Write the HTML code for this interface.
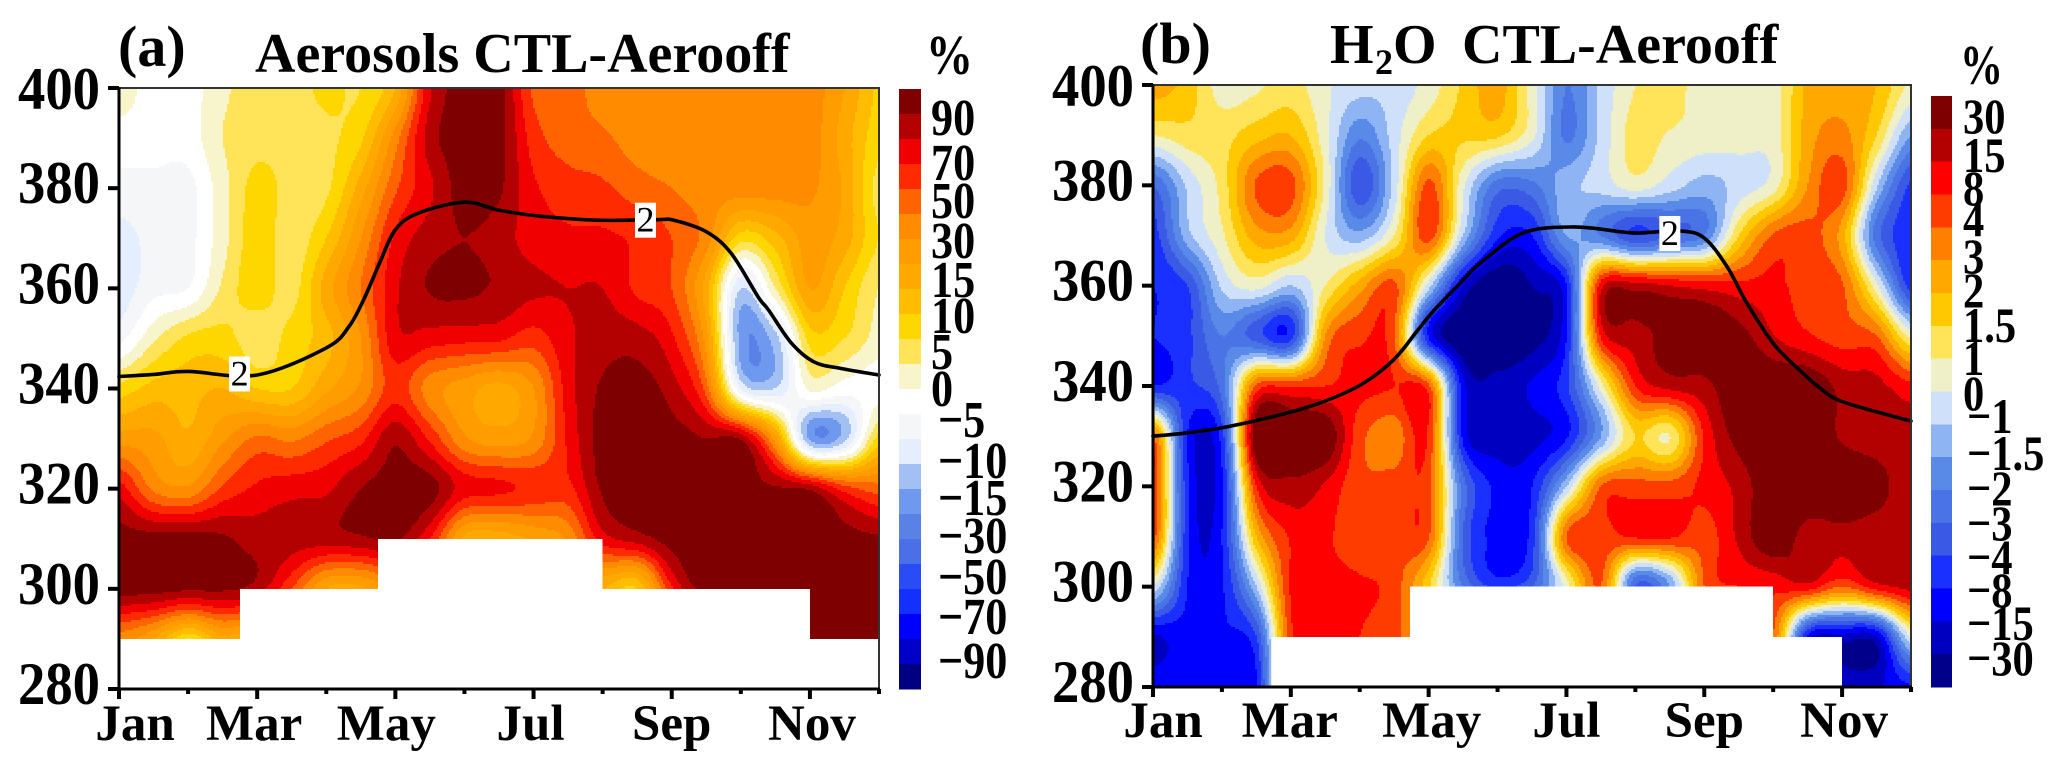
<!DOCTYPE html>
<html lang="en">
<head>
<meta charset="utf-8">
<title>Aerosols and H2O CTL-Aerooff</title>
<style>
html,body{margin:0;padding:0;background:#fff;}
body{width:2067px;height:774px;overflow:hidden;}
svg{display:block;}
text{font-family:"Liberation Serif",serif;font-weight:700;fill:#000;}
</style>
</head>
<body>
<svg id="figure" xmlns="http://www.w3.org/2000/svg" width="2067" height="774" viewBox="0 0 2067 774">
  <rect x="0" y="0" width="2067" height="774" fill="#fff"/>
  <g id="panelA"></g>
  <g id="panelB"></g>

  <text x="118" y="66" font-size="58">(a)</text>
  <text x="255" y="72" font-size="56">Aerosols CTL-Aerooff</text>
  <text x="926" y="74" font-size="56" textLength="47" lengthAdjust="spacingAndGlyphs">%</text>

  <text x="1140" y="63" font-size="58">(b)</text>
  <text y="63" font-size="56"><tspan x="1330">H</tspan><tspan x="1375" y="74" font-size="36">2</tspan><tspan x="1393" y="63">O</tspan></text>
  <text x="1462" y="63" font-size="56">CTL-Aerooff</text>
  <text x="1960" y="84" font-size="56" textLength="43" lengthAdjust="spacingAndGlyphs">%</text>

  <g font-size="52">
    <text class="tall" x="931" y="135">90</text>
    <text class="tall" x="931" y="180">70</text>
    <text class="tall" x="931" y="218">50</text>
    <text class="tall" x="931" y="258">30</text>
    <text class="tall" x="931" y="297">15</text>
    <text class="tall" x="931" y="333">10</text>
    <text class="tall" x="931" y="369">5</text>
    <text class="tall" x="931" y="406">0</text>
    <text class="tall" x="938" y="437">−5</text>
    <text class="tall" x="938" y="478">−10</text>
    <text class="tall" x="938" y="515">−15</text>
    <text class="tall" x="938" y="553">−30</text>
    <text class="tall" x="938" y="594">−50</text>
    <text class="tall" x="938" y="634">−70</text>
    <text class="tall" x="938" y="678">−90</text>
  </g>
  <g font-size="50">
    <text class="tall" x="1963" y="133">30</text>
    <text class="tall" x="1963" y="172">15</text>
    <text class="tall" x="1963" y="205">8</text>
    <text class="tall" x="1963" y="236">4</text>
    <text class="tall" x="1963" y="273">3</text>
    <text class="tall" x="1963" y="307">2</text>
    <text class="tall" x="1963" y="342">1.5</text>
    <text class="tall" x="1963" y="375">1</text>
    <text class="tall" x="1963" y="410">0</text>
    <text class="tall" x="1967" y="433">−1</text>
    <text class="tall" x="1967" y="470">−1.5</text>
    <text class="tall" x="1967" y="505">−2</text>
    <text class="tall" x="1967" y="540">−3</text>
    <text class="tall" x="1967" y="574">−4</text>
    <text class="tall" x="1967" y="607">−8</text>
    <text class="tall" x="1967" y="640">−15</text>
    <text class="tall" x="1967" y="675">−30</text>
  </g>
</svg>
<script>
// ---- shared axis data ----
const gridMonths = [0,0.5,1,1.5,2,2.5,3,3.5,4,4.5,5,5.5,6,6.5,7,7.5,8,8.5,9,9.5,10,10.5,11];
const gridHeights = [400,390,380,370,360,350,340,330,320,310,300,290,280];
const yTickValues = [400,380,360,340,320,300,280];
const xTickMonths = [0,2,4,6,8,10];
const xTickLabels = ['Jan','Mar','May','Jul','Sep','Nov'];
const xMinorTickMonths = [1,3,5,7,9,11];

// ---- panel (a) aerosols, percent ----
const aerosolLevels = [90,80,70,60,50,40,30,20,15,10,5,0,-2,-5,-10,-15,-20,-30,-40,-50,-60,-70,-90];
const aerosolColors = ['#7f0000','#b30000','#f00000','#ff2a00','#ff6400','#ff8c00','#ff9c00','#ffa800','#ffbc00','#ffd700','#ffe45a','#f8f5cc','#ffffff','#f5f6f7','#e4eeff','#a3c0f5','#6f99ee','#5a82e6','#4a6fe6','#2a4cf5','#1430ff','#0000ff','#0000c8','#000080'];
const aerosolValues = [
 [3,-1,-1,4,7,8,11,10,20,78,96,95,58,55,45,45,45,45,45,45,45,30,14],
 [-1,-1,-1,5,8,8,9,14,45,85,96,95,65,55,52,45,42,45,45,45,45,25,12],
 [-3,-3,-3,3,12,8,9,25,58,78,96,92,72,65,62,55,50,45,45,45,42,28,8],
 [-7,-4,-3,3,13,7,15,40,72,85,90,85,75,72,72,68,60,45,12,18,35,25,10],
 [-8,-3,-2,6,13,8,25,50,78,91,93,88,82,80,80,68,60,25,-10,5,30,15,5],
 [-3,4,11,12,7,12,18,40,77,75,73,72,65,78,85,85,72,35,-17,-12,12,10,3],
 [12,17,18,20,15,15,28,42,65,45,35,27,40,75,92,95,85,55,-5,-10,1,-1,-1],
 [35,33,22,38,52,48,58,67,88,68,42,35,42,72,95,95,95,90,88,35,-16,-12,12],
 [75,48,42,62,72,76,78,90,95,95,75,72,68,67,92,95,95,95,95,92,88,65,55],
 [95,95,95,92,85,85,85,88,92,70,28,25,32,42,75,85,95,95,95,95,95,95,92],
 [95,95,92,92,85,60,30,28,40,30,25,25,25,25,20,15,68,95,95,95,95,95,95],
 [45,30,10,25,20,20,20,20,20,20,20,20,20,20,20,20,20,20,20,95,95,95,95],
 [30,10,-30,0,20,20,20,20,20,20,20,20,20,20,20,20,20,20,20,95,95,95,95]
];
const aerosolMaskEdges = [0,1.75,3.75,7,10,11];
const aerosolMaskFloors = [290,300,310,300,290];
const aerosolLineMonths = [0,0.5,1,2,3,3.33,3.55,3.77,4,4.33,5,5.5,6.1,6.93,7.78,8.03,8.5,8.86,9.25,9.4,9.73,10.06,10.45,11];
const aerosolLineValues = [342.4,342.8,343.4,342.7,348.1,352.4,358,365,371.7,375,377.2,375.6,374.4,373.6,373.7,373.6,371.3,367,358.3,355.7,349.1,345.3,344,342.7];
const aerosolLabelMonths = [1.745,7.62];
const aerosolLabelValues = [343,373.7];

// ---- panel (b) water vapour, percent ----
const waterLevels = [30,15,8,4,3,2,1.5,1,0,-1,-1.5,-2,-3,-4,-8,-15,-30];
const waterColors = ['#7f0000','#b30000','#ff0000','#ff3c00','#ff8000','#ffa800','#ffc800','#ffe45a','#f0f0c8','#cfe0fa','#8fb4f4','#5a8ae8','#4a74e6','#3a5ae6','#1a30ff','#0000ff','#0000c0','#00008a'];
const waterValues = [
 [2.5,1.8,0.5,0.8,1.2,0.2,-0.6,-0.6,0.4,1.6,2.5,0.5,-2,-0.8,1.0,1.2,0.5,0.5,0.5,2.2,2.5,2.0,0.8],
 [1.0,1.3,1.3,1.8,2.0,0.4,-1.9,-0.5,1.5,1.6,1.6,0.3,-2.2,-0.7,1.2,0.9,0.6,0.5,0.5,2.5,3.3,1.5,-1.5],
 [-3,-0.8,1.2,4.5,5.5,0.8,-3.8,-0.6,5,0.2,-2.5,-2.3,-1.2,-0.6,0.5,-0.5,-1.2,-0.6,0.5,3,6,-0.8,-5],
 [-6,-1.2,0.8,2.5,2.5,0,-1.3,1,6,-1,-7,-8,-1.5,-2,-4,-3,-2,1.5,4.5,5.5,2.5,-2.5,-7],
 [-8,-4,-0.8,0.4,-1,1,2.5,5,-0.5,-15,-35,-30,-8,12,22,15,12,10,10,6,4.5,0.3,-6],
 [-8,-5,-2,-3.5,-6,3,7,4,-9,-35,-40,-32,-8,9,22,32,35,32,16,9,6,4,0.7],
 [-8,-5,-2.5,5,7,8,10,8,5,-12,-25,-14,-5,0.5,8,20,25,35,40,40,25,20,10],
 [4,-8,-6,35,40,35,5.5,3.4,7,-10,-24,-20,-9,-1.5,1.5,1,9,32,40,40,28,22,20],
 [8,-7,-9,8,25,14,5,5.5,5,-2.5,-10,-8,-1,4,5.5,5.5,10,20,40,40,40,32,20],
 [6,-7,-8,2,9,9,5.5,5,4.5,-3,-10,-6,4,6,9,9,6,18,38,22,22,20,20],
 [0,-8,-9,-1,9,9.5,9,6,1.6,-2,-5,-3,0.5,4,-3,-1.5,4,8,10,12,4,12,20],
 [-18,-10,-9,-4,7,8,8,5,3,3,3,3,3,3,3,3,3,3,4,-10,-20,-18,0],
 [-10,-9,-9,-9,7,8,8,5,3,3,3,3,3,3,3,3,3,3,4,-10,-20,-18,-9]
];
const waterMaskEdges = [0,1.72,3.73,9,10,11];
const waterMaskFloors = [280,290,300,290,280];
const waterLineMonths = [0,0.52,1.09,1.83,2.42,3.01,3.49,3.84,4.08,4.5,4.75,5.37,6.1,6.82,7.07,7.65,8,8.33,8.62,9,9.35,9.68,10.02,11];
const waterLineValues = [330,330.7,331.9,334.2,336.6,340.2,345.2,351.1,355.1,361.1,364.5,370.5,371.7,370.7,370.5,370.9,369.5,363.8,356.5,348.5,343.6,339.6,336.8,333];
const waterLabelMonths = [7.5];
const waterLabelValues = [370.5];

const SVGNS = 'http://www.w3.org/2000/svg';

function make(parent, tag, attrs) {
  const el = document.createElementNS(SVGNS, tag);
  for (const k in attrs) el.setAttribute(k, attrs[k]);
  parent.appendChild(el);
  return el;
}

// Horizontally squeeze a text element while keeping its height (the reference glyphs are tall and narrow).
function squeeze(el, factor) {
  el.setAttribute('textLength', el.getComputedTextLength() * factor);
  el.setAttribute('lengthAdjust', 'spacingAndGlyphs');
}

// Continuous colour-band position of a value: band i spans [i, i+1).
function bandPosition(v, levels) {
  const n = levels.length;
  if (v >= levels[0]) return Math.max(0, 1 - (v - levels[0]) / (levels[0] * 0.12 + 1));
  if (v <= levels[n - 1]) return Math.min(n + 0.99, n + (levels[n - 1] - v) / (Math.abs(levels[n - 1]) * 0.12 + 1));
  for (let k = 0; k < n - 1; k++) {
    if (v <= levels[k] && v >= levels[k + 1]) {
      return k + 1 + (levels[k] - v) / (levels[k] - levels[k + 1]);
    }
  }
  return 0;
}

function catmull(p0, p1, p2, p3, t) {
  return 0.5 * (2 * p1 + (p2 - p0) * t + (2 * p0 - 5 * p1 + 4 * p2 - p3) * t * t + (3 * p1 - p0 - 3 * p2 + p3) * t * t * t);
}

function fractionalIndex(axis, value) {
  const last = axis.length - 2;
  for (let i = 0; i <= last; i++) {
    const a = axis[i], b = axis[i + 1];
    if ((value >= a && value <= b) || (value <= a && value >= b)) return i + (value - a) / (b - a);
  }
  return value < axis[0] === axis[0] < axis[1] ? 0 : last + 1;
}

function samplePosition(grid, month, height) {
  const fx = fractionalIndex(gridMonths, month);
  const fy = fractionalIndex(gridHeights, height);
  const nx = gridMonths.length, ny = gridHeights.length;
  const ix = Math.min(nx - 2, Math.floor(fx)), iy = Math.min(ny - 2, Math.floor(fy));
  const tx = fx - ix, ty = fy - iy;
  const rows = [];
  for (let j = -1; j <= 2; j++) {
    const r = grid[Math.max(0, Math.min(ny - 1, iy + j))];
    rows.push(catmull(r[Math.max(0, ix - 1)], r[ix], r[ix + 1], r[Math.min(nx - 1, ix + 2)], tx));
  }
  return catmull(rows[0], rows[1], rows[2], rows[3], ty);
}

function drawPanel(cfg) {
  const g = document.getElementById(cfg.id);
  const xScale = m => cfg.left + (m - 0) / 11 * (cfg.right - cfg.left);
  const yScale = h => cfg.top + (400 - h) / 120 * (cfg.bottom - cfg.top);
  const monthAt = px => (px - cfg.left) / (cfg.right - cfg.left) * 11;
  const heightAt = py => 400 - (py - cfg.top) / (cfg.bottom - cfg.top) * 120;

  // filled contour bands
  const positions = cfg.values.map(row => row.map(v => bandPosition(v, cfg.levels)));
  const paths = cfg.colors.map(() => []);
  const step = 2;
  const maxBand = cfg.colors.length - 1;
  for (let py = cfg.top; py < cfg.bottom; py += step) {
    let runStart = cfg.left, runBand = -1;
    for (let px = cfg.left; px <= cfg.right; px += step) {
      let band = -2;
      if (px < cfg.right) {
        const t = samplePosition(positions, monthAt(px + 1), heightAt(py + 1));
        band = Math.max(0, Math.min(maxBand, Math.floor(t)));
      }
      if (band !== runBand) {
        if (runBand >= 0) paths[runBand].push('M' + runStart + ' ' + py + 'h' + (px - runStart) + 'v' + step + 'h' + (runStart - px) + 'z');
        runStart = px;
        runBand = band;
      }
    }
  }
  const bandGroup = make(g, 'g', { 'shape-rendering': 'crispEdges' });
  
  
  paths.forEach((segs, i) => {
    const p = make(bandGroup, 'path', { d: segs.join(''), fill: cfg.colors[i] });
    
    
  });

  // terrain / missing-data mask
  cfg.maskFloors.forEach((floor, i) => {
    const x0 = xScale(cfg.maskEdges[i]), x1 = xScale(cfg.maskEdges[i + 1]);
    const y0 = yScale(floor);
    const r = make(g, 'rect', { x: x0, y: y0, width: Math.max(0, x1 - x0), height: Math.max(0, cfg.bottom - y0), fill: '#fff', 'shape-rendering': 'crispEdges' });
    
    
  });

  // contour line of value 2
  const pts = cfg.lineMonths.map((m, i) => [xScale(m), yScale(cfg.lineValues[i])]);
  let d = 'M' + pts[0][0] + ' ' + pts[0][1];
  for (let i = 0; i < pts.length - 1; i++) {
    const p0 = pts[Math.max(0, i - 1)], p1 = pts[i], p2 = pts[i + 1], p3 = pts[Math.min(pts.length - 1, i + 2)];
    d += 'C' + (p1[0] + (p2[0] - p0[0]) / 6) + ' ' + (p1[1] + (p2[1] - p0[1]) / 6) + ' ' + (p2[0] - (p3[0] - p1[0]) / 6) + ' ' + (p2[1] - (p3[1] - p1[1]) / 6) + ' ' + p2[0] + ' ' + p2[1];
  }
  const line = make(g, 'path', { d: d, fill: 'none', stroke: '#000', 'stroke-width': 3.6, 'stroke-linecap': 'round' });
  
  

  cfg.labelMonths.forEach((m, i) => {
    const cx = xScale(m), cy = yScale(cfg.labelValues[i]);
    const box = make(g, 'rect', { x: cx - 10.5, y: cy - 17, width: 21, height: 35, fill: '#fff' });
    
    
    const t = make(g, 'text', { x: cx, y: cy + 12, 'font-size': 36, 'text-anchor': 'middle', style: 'font-weight:400' });
    t.textContent = '2';
    
    
  });

  // frame
  const frame = make(g, 'rect', { x: cfg.left, y: cfg.top, width: cfg.right - cfg.left, height: cfg.bottom - cfg.top, fill: 'none', stroke: '#333', 'stroke-width': 2 });
  
  
  const yAxis = make(g, 'line', { x1: cfg.left, x2: cfg.left, y1: cfg.top - 1, y2: cfg.bottom + 1, stroke: '#000', 'stroke-width': 3 });
  
  
  const xAxis = make(g, 'line', { x1: cfg.left, x2: cfg.right + 1, y1: cfg.bottom, y2: cfg.bottom, stroke: '#000', 'stroke-width': 3 });
  
  

  // y ticks
  yTickValues.forEach(v => {
    const y = yScale(v);
    const tick = make(g, 'line', { x1: cfg.left - 11, x2: cfg.left, y1: y, y2: y, stroke: '#000', 'stroke-width': 4 });
    
    
    const t = make(g, 'text', { x: cfg.yLabelX, y: y + (v === 400 ? 21 : 15), 'font-size': 60, 'text-anchor': 'end', textLength: 82, lengthAdjust: 'spacingAndGlyphs' });
    t.textContent = String(v);
    
    
  });

  // x ticks
  xTickMonths.forEach((m, i) => {
    const x = xScale(m);
    const tick = make(g, 'line', { x1: x, x2: x, y1: cfg.bottom, y2: cfg.bottom + 10, stroke: '#000', 'stroke-width': 4 });
    
    
    const t = make(g, 'text', { x: x + cfg.labelNudge[i], y: cfg.xLabelY, 'font-size': 51, 'text-anchor': 'middle' });
    t.textContent = xTickLabels[i];
    
    
  });
  xMinorTickMonths.forEach(m => {
    const x = xScale(m);
    const tick = make(g, 'line', { x1: x, x2: x, y1: cfg.bottom, y2: cfg.bottom + 5, stroke: '#000', 'stroke-width': 4 });
    
    
  });

  // colour bar
  const barH = (cfg.barBottom - cfg.barTop) / cfg.colors.length;
  const barGroup = make(g, 'g', { 'shape-rendering': 'crispEdges' });
  
  
  cfg.colors.forEach((c, i) => {
    const r = make(barGroup, 'rect', { x: cfg.barLeft, y: cfg.barTop + i * barH, width: cfg.barWidth, height: barH + 0.5, fill: c });
    
    
  });
}

drawPanel({
  id: 'panelA', key: 'panel-a',
  left: 119, right: 879, top: 88, bottom: 689,
  values: aerosolValues, levels: aerosolLevels, colors: aerosolColors,
  maskEdges: aerosolMaskEdges, maskFloors: aerosolMaskFloors,
  lineMonths: aerosolLineMonths, lineValues: aerosolLineValues,
  labelMonths: aerosolLabelMonths, labelValues: aerosolLabelValues,
  yLabelX: 100, xLabelY: 740, labelNudge: [16,-3,-9,-3,0,2],
  barLeft: 899, barWidth: 22, barTop: 89, barBottom: 689
});

drawPanel({
  id: 'panelB', key: 'panel-b',
  left: 1153, right: 1911, top: 85, bottom: 687,
  values: waterValues, levels: waterLevels, colors: waterColors,
  maskEdges: waterMaskEdges, maskFloors: waterMaskFloors,
  lineMonths: waterLineMonths, lineValues: waterLineValues,
  labelMonths: waterLabelMonths, labelValues: waterLabelValues,
  yLabelX: 1134, xLabelY: 737, labelNudge: [10,-1,3,0,0,2],
  barLeft: 1931, barWidth: 21, barTop: 96, barBottom: 687
});

document.querySelectorAll('text.tall').forEach(el => squeeze(el, 0.85));
</script>
</body>
</html>
